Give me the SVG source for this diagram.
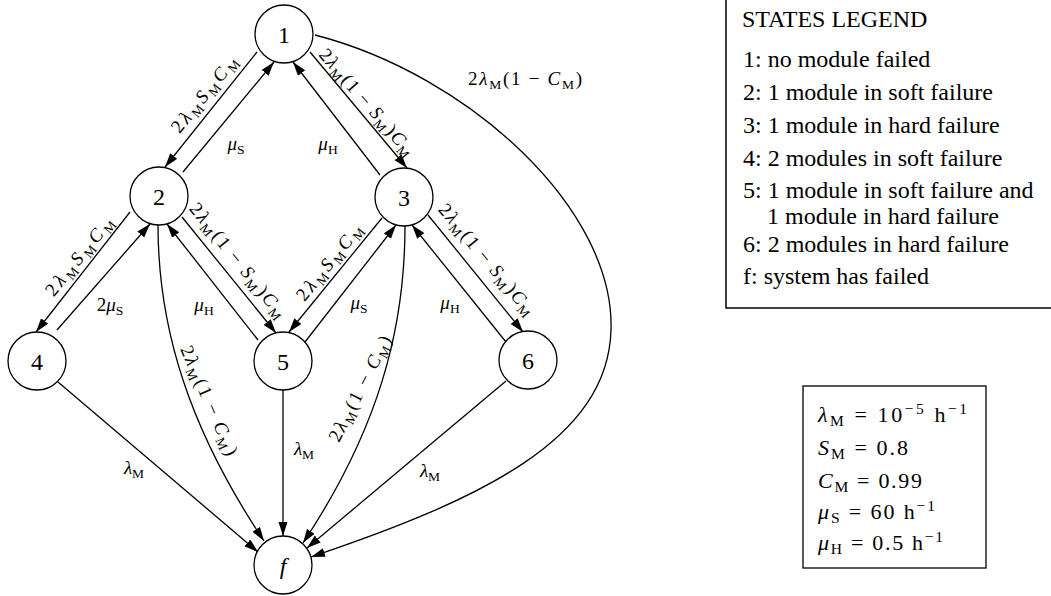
<svg xmlns="http://www.w3.org/2000/svg" width="1051" height="596" viewBox="0 0 1051 596">
<style>
.t{font-family:"Liberation Serif","DejaVu Serif",serif;fill:#000}
.e{font-size:19px}
.i{font-style:italic}
.s{font-size:13.5px}
.n{font-size:24px}
.lg{font-size:24px}
.p{font-size:22px}
.ps{font-size:15.5px}
circle.node{fill:#fff;stroke:#000;stroke-width:1.3}
.c path{fill:none;stroke:#000;stroke-width:1.3;marker-end:url(#ah)}
</style>
<defs>
<marker id="ah" markerUnits="userSpaceOnUse" markerWidth="15" markerHeight="10" refX="14" refY="4.5" orient="auto">
<path d="M0,0 L14,4.5 L0,9 z" fill="#000"/>
</marker>
</defs>
<rect width="1051" height="596" fill="#fff"/>

<g id="connectors" class="c">
<path d="M257,52 L165,167"/>
<path d="M183,172 L274,62"/>
<path d="M310,52 L407,168"/>
<path d="M380,175 L293,62"/>
<path d="M130,212 L36,332"/>
<path d="M57,330 L150,224"/>
<path d="M182,217 L276,333"/>
<path d="M258,340 L167,224"/>
<path d="M382,218 L289,332"/>
<path d="M305,342 L396,225"/>
<path d="M428,215 L523,332"/>
<path d="M506,342 L412,225"/>
<path d="M58,382 L258,552"/>
<path d="M283,390 L283,536"/>
<path d="M506,381 L307,548"/>
<path d="M158,225 C158,330 190,430 264,541"/>
<path d="M405,226 C405,330 378,430 303,543"/>
<path d="M315,35 C470,75 615,210 611,330 C608,440 480,500 311,557"/>
</g>

<g id="edge-labels" class="t e">
<text transform="translate(205,95) rotate(-51)" y="5" text-anchor="middle" textLength="93" lengthAdjust="spacing">2<tspan class="i">λ</tspan><tspan class="s" dy="4">M</tspan><tspan class="i" dy="-4">S</tspan><tspan class="s" dy="4">M</tspan><tspan class="i" dy="-4">C</tspan><tspan class="s" dy="4">M</tspan></text>
<text transform="translate(366,103) rotate(49)" y="5" text-anchor="middle" textLength="135" lengthAdjust="spacing">2<tspan class="i">λ</tspan><tspan class="s" dy="4">M</tspan><tspan dy="-4">(1 − </tspan><tspan class="i">S</tspan><tspan class="s" dy="4">M</tspan><tspan dy="-4">)</tspan><tspan class="i">C</tspan><tspan class="s" dy="4">M</tspan></text>
<text transform="translate(525,80)" y="5" text-anchor="middle" textLength="114" lengthAdjust="spacing">2<tspan class="i">λ</tspan><tspan class="s" dy="4">M</tspan><tspan dy="-4">(1 − </tspan><tspan class="i">C</tspan><tspan class="s" dy="4">M</tspan><tspan dy="-4">)</tspan></text>
<text transform="translate(80,257) rotate(-51)" y="5" text-anchor="middle" textLength="96" lengthAdjust="spacing">2<tspan class="i">λ</tspan><tspan class="s" dy="4">M</tspan><tspan class="i" dy="-4">S</tspan><tspan class="s" dy="4">M</tspan><tspan class="i" dy="-4">C</tspan><tspan class="s" dy="4">M</tspan></text>
<text transform="translate(237,261) rotate(51)" y="5" text-anchor="middle" textLength="142" lengthAdjust="spacing">2<tspan class="i">λ</tspan><tspan class="s" dy="4">M</tspan><tspan dy="-4">(1 − </tspan><tspan class="i">S</tspan><tspan class="s" dy="4">M</tspan><tspan dy="-4">)</tspan><tspan class="i">C</tspan><tspan class="s" dy="4">M</tspan></text>
<text transform="translate(330,263) rotate(-51)" y="5" text-anchor="middle" textLength="93" lengthAdjust="spacing">2<tspan class="i">λ</tspan><tspan class="s" dy="4">M</tspan><tspan class="i" dy="-4">S</tspan><tspan class="s" dy="4">M</tspan><tspan class="i" dy="-4">C</tspan><tspan class="s" dy="4">M</tspan></text>
<text transform="translate(486,260) rotate(50)" y="5" text-anchor="middle" textLength="139" lengthAdjust="spacing">2<tspan class="i">λ</tspan><tspan class="s" dy="4">M</tspan><tspan dy="-4">(1 − </tspan><tspan class="i">S</tspan><tspan class="s" dy="4">M</tspan><tspan dy="-4">)</tspan><tspan class="i">C</tspan><tspan class="s" dy="4">M</tspan></text>
<text transform="translate(208,401) rotate(66.5)" y="5" text-anchor="middle" textLength="118" lengthAdjust="spacing">2<tspan class="i">λ</tspan><tspan class="s" dy="4">M</tspan><tspan dy="-4">(1 − </tspan><tspan class="i">C</tspan><tspan class="s" dy="4">M</tspan><tspan dy="-4">)</tspan></text>
<text transform="translate(361,389) rotate(-63)" y="5" text-anchor="middle" textLength="116" lengthAdjust="spacing">2<tspan class="i">λ</tspan><tspan class="s" dy="4">M</tspan><tspan dy="-4">(1 − </tspan><tspan class="i">C</tspan><tspan class="s" dy="4">M</tspan><tspan dy="-4">)</tspan></text>
<text x="236" y="150" text-anchor="middle"><tspan class="i">μ</tspan><tspan class="s" dy="4">S</tspan></text>
<text x="328" y="150" text-anchor="middle"><tspan class="i">μ</tspan><tspan class="s" dy="4">H</tspan></text>
<text x="110" y="311" text-anchor="middle">2<tspan class="i">μ</tspan><tspan class="s" dy="4">S</tspan></text>
<text x="204" y="311" text-anchor="middle"><tspan class="i">μ</tspan><tspan class="s" dy="4">H</tspan></text>
<text x="359" y="309" text-anchor="middle"><tspan class="i">μ</tspan><tspan class="s" dy="4">S</tspan></text>
<text x="450" y="309" text-anchor="middle"><tspan class="i">μ</tspan><tspan class="s" dy="4">H</tspan></text>
<text x="134" y="474" text-anchor="middle"><tspan class="i">λ</tspan><tspan class="s" dy="4">M</tspan></text>
<text x="304" y="455" text-anchor="middle"><tspan class="i">λ</tspan><tspan class="s" dy="4">M</tspan></text>
<text x="430" y="477" text-anchor="middle"><tspan class="i">λ</tspan><tspan class="s" dy="4">M</tspan></text>
</g>

<g id="node-1"><circle class="node" cx="284" cy="34" r="29"/><text class="t n" x="284" y="43" text-anchor="middle">1</text></g>
<g id="node-2"><circle class="node" cx="159" cy="196" r="29"/><text class="t n" x="159" y="205" text-anchor="middle">2</text></g>
<g id="node-3"><circle class="node" cx="404" cy="197" r="29"/><text class="t n" x="404" y="206" text-anchor="middle">3</text></g>
<g id="node-4"><circle class="node" cx="37" cy="361" r="29"/><text class="t n" x="37" y="370" text-anchor="middle">4</text></g>
<g id="node-5"><circle class="node" cx="283" cy="361" r="29"/><text class="t n" x="283" y="370" text-anchor="middle">5</text></g>
<g id="node-6"><circle class="node" cx="528" cy="360" r="29"/><text class="t n" x="528" y="369" text-anchor="middle">6</text></g>
<g id="node-f"><circle class="node" cx="283" cy="565" r="29"/><text class="t n i" x="283" y="574" text-anchor="middle">f</text></g>

<g id="legend">
<rect x="726" y="-5" width="330" height="313" fill="none" stroke="#000" stroke-width="1.5"/>
<g class="t lg">
<text x="742" y="27">STATES LEGEND</text>
<text x="743" y="67">1: no module failed</text>
<text x="743" y="100">2: 1 module in soft failure</text>
<text x="743" y="133">3: 1 module in hard failure</text>
<text x="743" y="166">4: 2 modules in soft failure</text>
<text x="743" y="198">5: 1 module in soft failure and</text>
<text x="767" y="224">1 module in hard failure</text>
<text x="743" y="252">6: 2 modules in hard failure</text>
<text x="743" y="284">f:  system has failed</text>
</g>
</g>

<g id="parameters">
<rect x="803" y="386" width="183" height="182" fill="none" stroke="#000" stroke-width="1.3"/>
<g class="t p">
<text x="818" y="422" textLength="149" lengthAdjust="spacing"><tspan class="i">λ</tspan><tspan class="ps" dy="4">M</tspan><tspan dy="-4"> = 10</tspan><tspan class="ps" dy="-8">−5</tspan><tspan dy="8"> h</tspan><tspan class="ps" dy="-8">−1</tspan></text>
<text x="818" y="455" textLength="90" lengthAdjust="spacing"><tspan class="i">S</tspan><tspan class="ps" dy="4">M</tspan><tspan dy="-4"> = 0.8</tspan></text>
<text x="818" y="488" textLength="104" lengthAdjust="spacing"><tspan class="i">C</tspan><tspan class="ps" dy="4">M</tspan><tspan dy="-4"> = 0.99</tspan></text>
<text x="818" y="519" textLength="117" lengthAdjust="spacing"><tspan class="i">μ</tspan><tspan class="ps" dy="4">S</tspan><tspan dy="-4"> = 60 h</tspan><tspan class="ps" dy="-8">−1</tspan></text>
<text x="818" y="550" textLength="125" lengthAdjust="spacing"><tspan class="i">μ</tspan><tspan class="ps" dy="4">H</tspan><tspan dy="-4"> = 0.5 h</tspan><tspan class="ps" dy="-8">−1</tspan></text>
</g>
</g>
</svg>
